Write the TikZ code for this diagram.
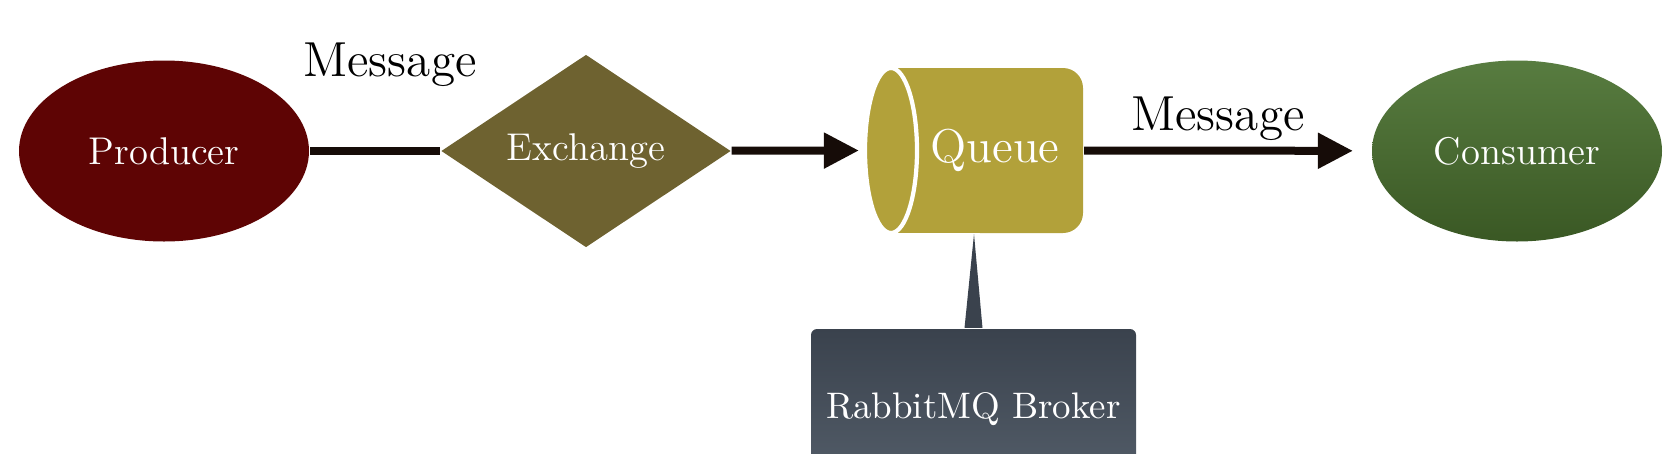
\documentclass[tikz,border=0pt]{standalone}
\usepackage{amsmath, amssymb, tikz}
\usetikzlibrary{shapes.geometric, arrows.meta}

\definecolor{producerred}{RGB}{94,4,4}
\definecolor{exchangeolive}{RGB}{110,98,48}
\definecolor{queuegold}{RGB}{178,161,58}
\definecolor{consumertop}{RGB}{88,124,64}
\definecolor{consumerbottom}{RGB}{58,88,36}
\definecolor{brokertop}{RGB}{58,66,77}
\definecolor{brokerbottom}{RGB}{84,94,106}
\definecolor{arrowdark}{RGB}{22,12,8}

\begin{document}
\begin{tikzpicture}
            [>={Triangle[length=0.35cm,width=0.34cm]}, semithick,
             shapetext/.style={text=white, font=\fontsize{11}{13}\selectfont},
             endpoint/.style={shape=ellipse, draw=none, minimum width=2.9cm, minimum height=1.81cm, inner sep=0pt, shapetext},
             msglabel/.style={anchor=base, text=black, font=\fontsize{14}{16}\selectfont},
             flow/.style={draw=arrowdark, line width=0.08cm}]
            \clip (0, 0) rectangle (16.68, -4.53);

            % the queue drawn as a cylinder lying on its side
            \fill[queuegold] (8.91, -0.68) rectangle (10.4, -2.33);
            \fill[queuegold, rounded corners=0.2cm] (9.6, -0.68) rectangle (10.83, -2.33);
            \filldraw[fill=queuegold, draw=white, line width=1.2pt] (8.91, -1.505) ellipse (0.26 and 0.825);

            \node[endpoint, fill=producerred] (producer) at (1.64, -1.51) {Producer};
            \node[shape=diamond, fill=exchangeolive, minimum width=2.9cm, minimum height=1.87cm, inner sep=0pt, shapetext] (exchange) at (5.86, -1.51) {Exchange};
            \node[shape=rectangle, draw=none, minimum width=2.18cm, minimum height=1.65cm, inner sep=0pt] (queue) at (9.74, -1.505) {};
            \node[shapetext, font=\fontsize{13.5}{15}\selectfont] (queuetext) at ([xshift=0.21cm]queue.center) {Queue};
            \node[endpoint, top color=consumertop, bottom color=consumerbottom] (consumer) at (15.17, -1.51) {Consumer};
            \node[shape=rectangle, rounded corners=0.06cm, top color=brokertop, bottom color=brokerbottom, minimum width=3.25cm, minimum height=1.6cm, shapetext, font=\fontsize{10.5}{12}\selectfont] (broker) at (9.735, -4.09) {RabbitMQ Broker};

            \node[msglabel] (msg1) at (3.90, -0.76) {Message};
            \node[msglabel] (msg2) at (12.18, -1.30) {Message};

            \path [flow] (producer) -- (exchange);
            \path [flow, ->, shorten >=0.05cm] (exchange) -- (queue.west);
            \path [flow, ->, shorten >=0.18cm] (queue.east) -- (consumer);
            \fill[brokertop] (queue.south) -- ([xshift=-0.09cm]broker.north) -- ([xshift=0.09cm]broker.north) -- cycle;
        \end{tikzpicture}
\end{document}
